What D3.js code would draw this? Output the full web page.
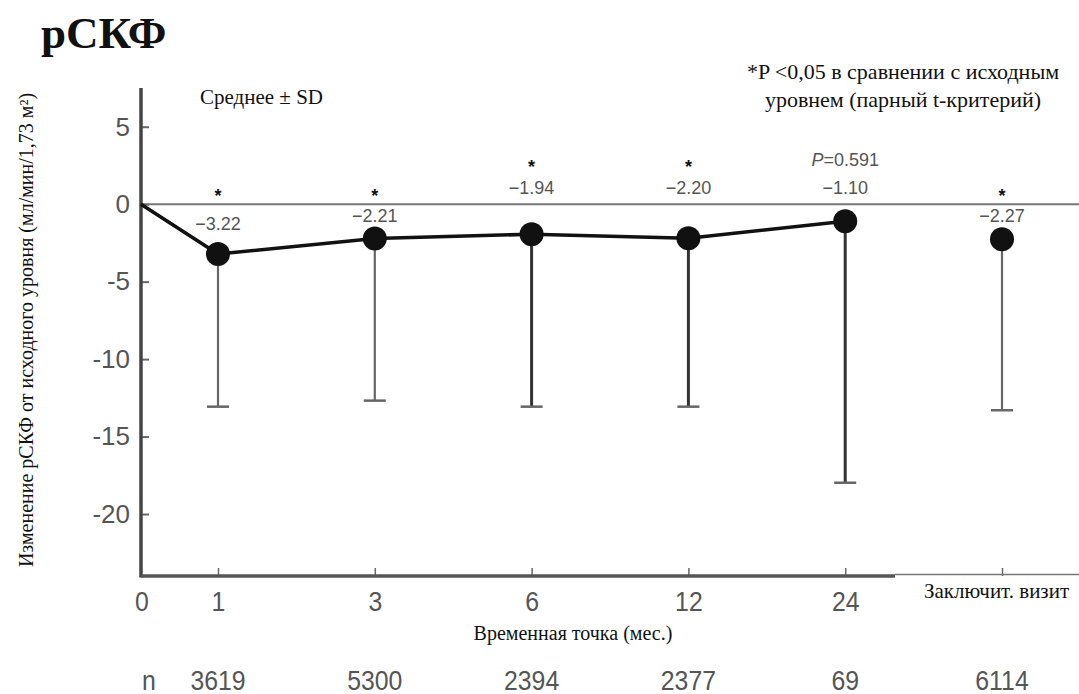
<!DOCTYPE html>
<html><head><meta charset="utf-8">
<script src="https://cdn.jsdelivr.net/npm/d3@7"></script>
<style>html,body{margin:0;padding:0;background:#fff;}svg{display:block;}</style>
</head><body>
<script>
const categories = ["1","3","6","12","24","Заключит. визит"];
const means = [-3.22,-2.21,-1.94,-2.20,-1.10,-2.27];
const sds = [9.85,10.47,11.13,10.87,16.88,11.03];
const valueLabels = ["\u22123.22","\u22122.21","\u22121.94","\u22122.20","\u22121.10","\u22122.27"];
const sigLabels = ["*","*","*","*","P=0.591","*"];
const nCounts = [3619,5300,2394,2377,69,6114];
const connected = [true,true,true,true,true,false];
const yTicks = [5,0,-5,-10,-15,-20];
const originLabel = "0";

(function(){
const W = 1079, H = 694;
const pL = 141, pR = 1079, pT = 88, pB = 576;

const svg = d3.select("body").append("svg").attr("width", W).attr("height", H);

const x = d3.scalePoint().domain(categories).range([218, 1002]);
const y = d3.scaleLinear().domain([-24, 7.5]).range([pB, pT]);

const sans = "'Liberation Sans', Arial, sans-serif";
const serif = "'Liberation Serif', 'Times New Roman', serif";
const grey = "#555";

// Title
svg.append("text").attr("x", 41).attr("y", 48).attr("font-family", serif)
  .attr("font-weight", "bold").attr("font-size", 45).attr("fill", "#111").text("рСКФ");

// Zero reference line
svg.append("line").attr("x1", pL).attr("x2", pR).attr("y1", y(0)).attr("y2", y(0))
  .attr("stroke", "#777").attr("stroke-width", 2);

// Y axis
const yAxis = d3.axisLeft(y).tickValues(yTicks).tickSizeInner(-8).tickSizeOuter(0)
  .tickPadding(11).tickFormat(d => String(d));
const gy = svg.append("g").attr("transform", `translate(${pL},0)`).call(yAxis);
gy.select(".domain").remove();
gy.selectAll(".tick line").attr("stroke", "#666").attr("stroke-width", 2);
gy.selectAll(".tick text").attr("font-family", sans).attr("font-size", 26).attr("fill", grey);
svg.append("line").attr("x1", pL).attr("x2", pL).attr("y1", pT).attr("y2", pB + 1.5)
  .attr("stroke", "#444").attr("stroke-width", 3.5);

// X axis
const xAxis = d3.axisBottom(x).tickSizeInner(-8).tickSizeOuter(0).tickPadding(16);
const gx = svg.append("g").attr("transform", `translate(0,${pB})`).call(xAxis);
gx.select(".domain").remove();
gx.selectAll(".tick line").attr("stroke", "#666").attr("stroke-width", 1.5);
gx.selectAll(".tick text").attr("font-family", sans).attr("font-size", 27).attr("fill", grey)
  .attr("transform", "scale(0.92,1)");
gx.selectAll(".tick").each(function(d){
  const t = d3.select(this).select("text");
  if (d === categories[categories.length - 1]) {
    t.attr("font-family", serif).attr("font-size", 21).attr("fill", "#111")
     .attr("transform", null).attr("dy", "0.3em").attr("x", -6);
  }
});
svg.append("line").attr("x1", pL).attr("x2", 895).attr("y1", pB).attr("y2", pB)
  .attr("stroke", "#555").attr("stroke-width", 3.5);
svg.append("line").attr("x1", 895).attr("x2", pR).attr("y1", pB - 1.5).attr("y2", pB - 1.5)
  .attr("stroke", "#777").attr("stroke-width", 1.5);
svg.append("text").attr("y", pB + 16).attr("dy", "0.71em")
  .attr("text-anchor", "middle").attr("font-family", sans).attr("font-size", 27).attr("fill", grey)
  .attr("transform", `translate(${pL + 1},0) scale(0.92,1)`)
  .text(originLabel);

// Axis titles
svg.append("text").attr("x", 573).attr("y", 640).attr("text-anchor", "middle")
  .attr("font-family", serif).attr("font-size", 20).attr("fill", "#111").text("Временная точка (мес.)");
svg.append("text").attr("transform", "translate(33,330) rotate(-90)").attr("text-anchor", "middle")
  .attr("font-family", serif).attr("font-size", 20).attr("fill", "#111")
  .text("Изменение рСКФ от исходного уровня (мл/мин/1,73 м²)");

// Annotations
svg.append("text").attr("x", 200).attr("y", 104).attr("font-family", serif).attr("font-size", 21)
  .attr("fill", "#111").text("Среднее ± SD");
const note = svg.append("text").attr("text-anchor", "middle").attr("font-family", serif)
  .attr("font-size", 22).attr("fill", "#111");
note.append("tspan").attr("x", 903).attr("y", 79).text("*P <0,05 в сравнении с исходным");
note.append("tspan").attr("x", 903).attr("y", 107).text("уровнем (парный t-критерий)");

// Data
const data = categories.map((c, i) => ({c, i, m: means[i], sd: sds[i], lab: valueLabels[i],
  sig: sigLabels[i], n: nCounts[i], conn: connected[i]}));

// Error bars (downward: mean - SD); middle bars printed darker in the original
const dark = d => d.i >= 2 && d.i <= 4;
const capW = 11;
svg.selectAll(".err").data(data).enter().append("line")
  .attr("x1", d => x(d.c)).attr("x2", d => x(d.c))
  .attr("y1", d => y(d.m)).attr("y2", d => y(d.m - d.sd))
  .attr("stroke", d => dark(d) ? "#333" : "#666").attr("stroke-width", d => dark(d) ? 3 : 2.2);
svg.selectAll(".cap").data(data).enter().append("line")
  .attr("x1", d => x(d.c) - capW).attr("x2", d => x(d.c) + capW)
  .attr("y1", d => y(d.m - d.sd)).attr("y2", d => y(d.m - d.sd))
  .attr("stroke", "#666").attr("stroke-width", 2.5);

// Line from origin through connected points
const linePts = [[pL, y(0)]].concat(data.filter(d => d.conn).map(d => [x(d.c), y(d.m)]));
svg.append("path").attr("d", d3.line()(linePts)).attr("fill", "none")
  .attr("stroke", "#111").attr("stroke-width", 3.5).attr("stroke-linejoin", "round");

svg.selectAll(".pt").data(data).enter().append("circle")
  .attr("cx", d => x(d.c)).attr("cy", d => y(d.m)).attr("r", 12).attr("fill", "#111");

// Value and significance labels (labels of points near zero go above the zero line)
data.forEach((d, i) => {
  const hi = (i >= 2 && i <= 4);
  const labY = hi ? y(0) - 10 : (i === 0 ? y(0) + 26 : y(0) + 18);
  svg.append("text").attr("x", x(d.c)).attr("y", labY).attr("text-anchor", "middle")
    .attr("font-family", sans).attr("font-size", 18).attr("fill", grey).text(d.lab);
  if (d.sig === "*") {
    svg.append("text").attr("x", x(d.c)).attr("y", hi ? y(0) - 31 : y(0) - 2).attr("text-anchor", "middle")
      .attr("font-family", sans).attr("font-size", 18).attr("font-weight", "bold")
      .attr("fill", "#111").text("*");
  } else {
    const t = svg.append("text").attr("x", x(d.c)).attr("y", y(0) - 38).attr("text-anchor", "middle")
      .attr("font-family", sans).attr("font-size", 18).attr("fill", grey);
    const parts = d.sig.split("=");
    t.append("tspan").attr("font-style", "italic").text(parts[0]);
    t.append("tspan").text("=" + parts[1]);
  }
});

// n row
svg.append("text").attr("transform", "translate(149,690) scale(0.92,1)").attr("text-anchor", "middle")
  .attr("font-family", sans).attr("font-size", 27).attr("fill", grey).text("n");
svg.selectAll(".n").data(data).enter().append("text")
  .attr("transform", d => `translate(${x(d.c)},690) scale(0.92,1)`)
  .attr("text-anchor", "middle").attr("font-family", sans).attr("font-size", 27).attr("fill", grey)
  .text(d => d.n);
})();
</script>
</body></html>
